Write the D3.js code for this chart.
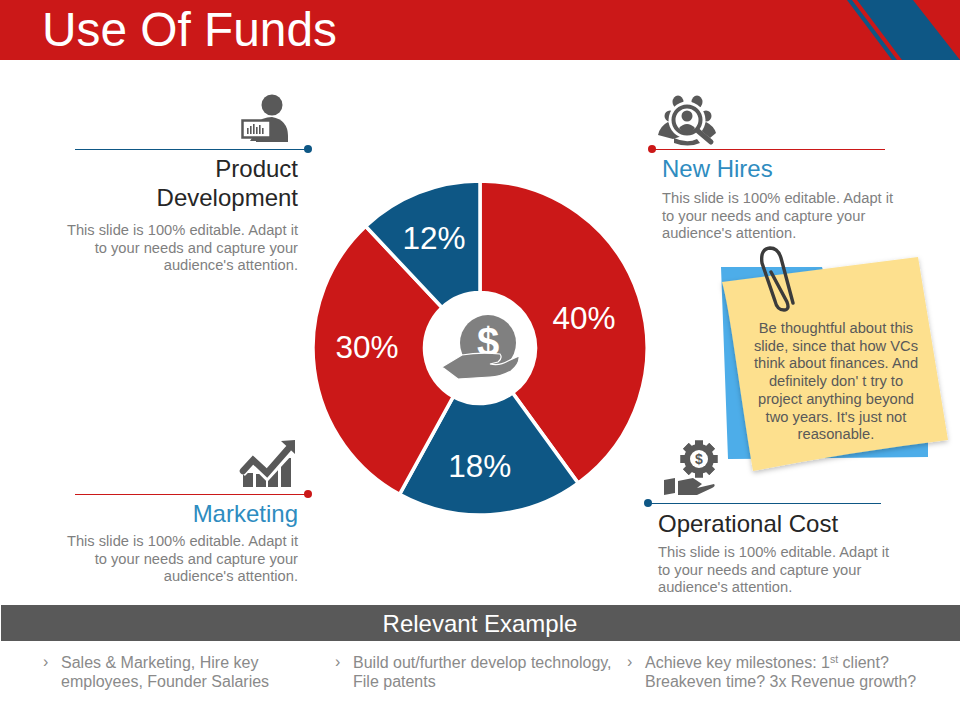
<!DOCTYPE html>
<html><head><meta charset="utf-8">
<style>html,body{margin:0;padding:0;background:#fff}svg{display:block}text{font-family:"Liberation Sans",Arial,sans-serif}</style>
<script src="https://cdn.jsdelivr.net/npm/d3@7/dist/d3.min.js"></script></head>
<body><svg id="c" width="960" height="720" viewBox="0 0 960 720"></svg>
<script>
const shareLabels = ["40%","18%","30%","12%"];
const shareValues = [40,18,30,12];
const shareCategories = ["New Hires","Operational Cost","Marketing","Product Development"];
const title = "Use Of Funds";
const bodyLines = ["This slide is 100% editable. Adapt it","to your needs and capture your","audience's attention."];
const noteLines = ["Be thoughtful about this","slide, since that how VCs","think about finances. And","definitely don' t try to","project anything beyond","two years. It's just not","reasonable."];
const exampleTitle = "Relevant Example";
const exampleOne = ["Sales & Marketing, Hire key","employees, Founder Salaries"];
const exampleTwo = ["Build out/further develop technology,","File patents"];
const exampleThree = ["Achieve key milestones: 1|st| client?","Breakeven time? 3x Revenue growth?"];

const RED="#cb1818", BLUE="#0e5785", GREY="#595959", TXT="#7f7f7f", ACC="#2e8cc0";
const svg=d3.select("#c");
const T=(x,y,s,size,fill,anchor="start",g=svg)=>g.append("text").attr("x",x).attr("y",y).attr("font-size",size).attr("fill",fill).attr("text-anchor",anchor).text(s);
const P=(d,fill,g=svg)=>g.append("path").attr("d",d).attr("fill",fill);

// header
svg.append("rect").attr("width",960).attr("height",60).attr("fill",RED);
P("M857 0H913L960 60H902Z",BLUE);
P("M847 0H852L897 60H892Z",BLUE);
T(42,46,title,47.8,"#fff");

// donut
const pie=d3.pie().sort(null).value(d=>d)(shareValues);
const arc=d3.arc().innerRadius(55.5).outerRadius(167);
const donut=svg.append("g").attr("transform","translate(480,348)");
donut.selectAll("path").data(pie).join("path").attr("d",arc)
  .attr("fill",(d,i)=>i%2?BLUE:RED).attr("stroke","#fff").attr("stroke-width",3.5)
  .append("title").text((d,i)=>shareCategories[i]);
const labelArc=d3.arc().innerRadius(122).outerRadius(122);
const labelNudge=[[-12,8],[-8,-4],[8,-16],[-1,3]];
donut.selectAll("text").data(pie).join("text")
  .attr("transform",(d,i)=>{const c=labelArc.centroid(d);return `translate(${c[0]+labelNudge[i][0]},${c[1]+11+labelNudge[i][1]})`})
  .attr("text-anchor","middle").attr("font-size",31.5).attr("fill","#fff")
  .text((d,i)=>shareLabels[i]);

// centre icon
const coinG="#808080";
svg.append("circle").attr("cx",488).attr("cy",343).attr("r",28).attr("fill",coinG);
T(488,356,"$",40,"#fff","middle").attr("font-weight","bold");
P("M442 367L462 355Q480 352 500 354Q503 358 498 362L490 364Q500 366 508 361L519 356Q520 364 511 371Q500 377 490 377L458 379Z",coinG).attr("stroke","#fff").attr("stroke-width",1.2);

// callouts
function rule(x1,x2,y,dotX,col){
  svg.append("rect").attr("x",x1).attr("width",x2-x1).attr("y",y-0.5).attr("height",1).attr("fill",col).attr("shape-rendering","crispEdges");
  svg.append("circle").attr("cx",dotX).attr("cy",y).attr("r",4).attr("fill",col);
}
rule(75,308,149,308,BLUE);
rule(75,308,494,308,RED);
rule(652,885,149,652,RED);
rule(648,881,503,648,BLUE);

T(298,177,"Product",24,"#262626","end");
T(298,206,"Development",24,"#262626","end");
T(298,522,"Marketing",24,ACC,"end");
T(662,177,"New Hires",24,ACC);
T(658,532,"Operational Cost",24,"#262626");
[[298,"end",235],[298,"end",546],[662,"start",203],[658,"start",557]].forEach(([x,a,y])=>{
  bodyLines.forEach((l,i)=>T(x,y+i*17.7,l,14.7,TXT,a));
});

// sticky note
const defs=svg.append("defs");
const f=defs.append("filter").attr("id","sh").attr("x","-10%").attr("y","-10%").attr("width","120%").attr("height","120%");
f.append("feDropShadow").attr("dx",0).attr("dy",2).attr("stdDeviation",2.5).attr("flood-color","#000").attr("flood-opacity",.25);
P("M721 267H822L860 400L928 420V457L728 459Z","#4dade9");
P("M722 282L918 257L948 440Q850 452 753 471C738 380 730 310 722 282Z","#fde08e").attr("filter","url(#sh)");
svg.append("path").attr("d","M771 272L787 302Q790 310 784 310Q777 310 775 301L762 263Q760 249 770 248Q778 248 781 258L793 303")
  .attr("fill","none").attr("stroke","#3b3b3b").attr("stroke-width",3.4).attr("stroke-linecap","round");
noteLines.forEach((l,i)=>T(836,333+i*17.7,l,14.7,GREY,"middle"));

// product icon
const IC="#595959";
svg.append("circle").attr("cx",272).attr("cy",105).attr("r",10.5).attr("fill",IC);
P("M256 142V124Q262 117 272 117Q288 120 288 136V142Z",IC);
svg.append("rect").attr("x",242.5).attr("y",120.5).attr("width",28).attr("height",17).attr("fill","#fff").attr("stroke",IC).attr("stroke-width",2.5);
P("M252 138H261L263 141H250Z",IC);
[[248,6],[251,8],[254,10],[257,7],[260,9],[263,6]].forEach(([x,h])=>svg.append("rect").attr("x",x-1).attr("y",134-h).attr("width",1.6).attr("height",h).attr("fill",IC));

// marketing icon
[[243,473],[256,474],[268,470],[281,458]].forEach(([x,y])=>svg.append("rect").attr("x",x).attr("y",y).attr("width",10).attr("height",487-y).attr("fill",IC));
svg.append("path").attr("d","M241 472L253 460L267 474L290 449").attr("fill","none").attr("stroke","#fff").attr("stroke-width",11);
svg.append("path").attr("d","M243 471L253 460L267 473L288 449").attr("fill","none").attr("stroke",IC).attr("stroke-width",6.5).attr("stroke-linecap","round");
P("M281 441L295 440V454Z",IC);

// hires icon
[[678,102],[697,102]].forEach(([x,y])=>svg.append("ellipse").attr("cx",x).attr("cy",y).attr("rx",5.5).attr("ry",6.5).attr("fill",IC));
[[670,116],[706,116]].forEach(([x,y])=>svg.append("circle").attr("cx",x).attr("cy",y).attr("r",5.5).attr("fill",IC));
P("M658 135Q660 126 668 122L682 136L673 139Z",IC);
P("M706 122Q714 126 716 133L710 138L698 128Z",IC);
svg.append("circle").attr("cx",687).attr("cy",120).attr("r",18.5).attr("fill","#fff");
svg.append("circle").attr("cx",687).attr("cy",120).attr("r",13.5).attr("fill","#fff").attr("stroke",IC).attr("stroke-width",4);
svg.append("circle").attr("cx",687).attr("cy",116).attr("r",5.5).attr("fill",IC);
P("M679 128Q687 120 695 128Q691 134 687 134Q683 134 679 128Z",IC);
P("M674 138Q687 144 697 139L700 143Q688 148 674 143Z",IC);
svg.append("line").attr("x1",698).attr("y1",131).attr("x2",711).attr("y2",142).attr("stroke",IC).attr("stroke-width",5).attr("stroke-linecap","round");

// gear icon
const gear=svg.append("g").attr("transform","translate(699,459)");
d3.range(8).forEach(i=>gear.append("rect").attr("x",-4).attr("y",-18.5).attr("width",8).attr("height",37).attr("fill",IC).attr("transform",`rotate(${i*45})`));
gear.append("circle").attr("r",15).attr("fill",IC);
gear.append("circle").attr("r",9).attr("fill","#fff");
T(0,5,"$",14,IC,"middle",gear).attr("font-weight","bold");
P("M664 480L675 478L675 493L664 495Z",IC);
P("M678 481L693 478L702 484L697 488L714 484Q716 486 712 488L697 495H678Z",IC);

// bottom band
svg.append("rect").attr("x",1).attr("y",605).attr("width",959).attr("height",36).attr("fill",GREY);
T(480,632,exampleTitle,24,"#fff","middle");
const BT="#8a8a8a";
[[43,61,exampleOne],[335,353,exampleTwo],[627,645,exampleThree]].forEach(([bx,x,lines])=>{
  T(bx,667,"›",16,BT);
  lines.forEach((l,i)=>{
    const t=svg.append("text").attr("x",x).attr("y",668+i*19).attr("font-size",16).attr("fill",BT);
    l.split("|").forEach((s,j)=>{
      const sp=t.append("tspan").text(s);
      if(j===1) sp.attr("dy",-5).attr("font-size",10.5);
      if(j===2) sp.attr("dy",5);
    });
  });
});
</script></body></html>
